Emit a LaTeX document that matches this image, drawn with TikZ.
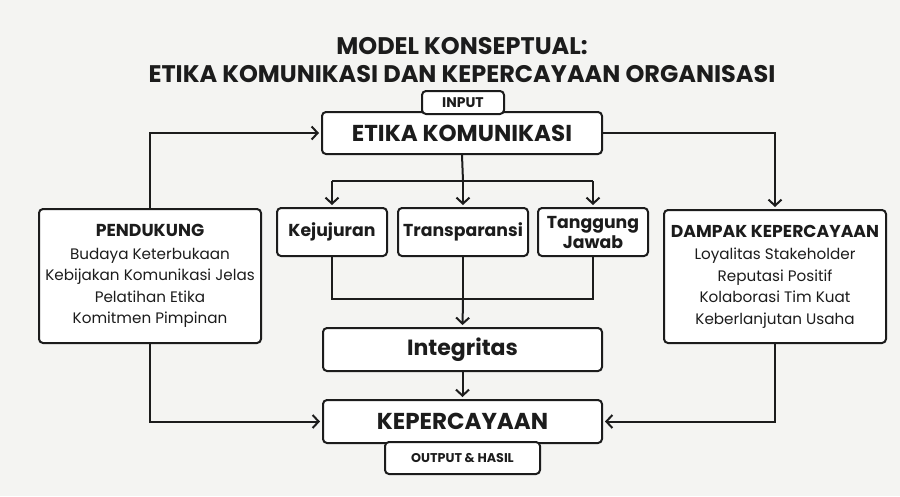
\documentclass[tikz,border=0pt]{standalone}
\usepackage{fontspec}
\setmainfont{Poppins}
\usepackage{tikz}
\usetikzlibrary{arrows.meta,calc}
\definecolor{bgcol}{HTML}{F4F4F2}
\definecolor{ink}{HTML}{1C1C1C}

\tikzset{
  box/.style={draw=ink, fill=white, line width=2pt, rounded corners=4pt, inner sep=0pt, text=ink, align=center},
  conn/.style={draw=ink, line width=2pt},
  arr/.style={conn, -{Straight Barb[length=6pt,width=13pt,line width=2pt]}, shorten >=2pt}
}

\begin{document}
\begin{tikzpicture}[x=1pt,y=-1pt]
        \fill[bgcol] (0,0) rectangle (900,496);
        \useasboundingbox (0,0) rectangle (900,496);
        % positions
        \coordinate (ttl) at (462,60);
        \coordinate (c1) at (462,133);
        \coordinate (c2) at (332,232);
        \coordinate (c3) at (463,232);
        \coordinate (c4) at (593,232);
        \coordinate (c5) at (462.5,349.5);
        \coordinate (c6) at (462.5,421.5);
        \coordinate (c7) at (150,276);
        \coordinate (c8) at (775,276.5);
        \coordinate (split) at (463,181);
        \coordinate (join) at (463,299);

          % title
          \node[text=ink, align=center, font=\fontsize{24}{28.5}\selectfont\bfseries] (title) at (ttl)
            {MODEL KONSEPTUAL:\\ETIKA KOMUNIKASI DAN KEPERCAYAAN ORGANISASI};

          % main boxes
          \node[box, minimum width=280, minimum height=42, font=\fontsize{23}{26}\selectfont\bfseries] (etika) at (c1) {ETIKA KOMUNIKASI};
          \node[box, minimum width=110, minimum height=48, font=\fontsize{17.3}{21}\selectfont\bfseries] (kej) at (c2) {Kejujuran};
          \node[box, minimum width=130, minimum height=48, font=\fontsize{17.3}{21}\selectfont\bfseries] (trans) at (c3) {Transparansi};
          \node[box, minimum width=110, minimum height=48, font=\fontsize{17.3}{21}\selectfont\bfseries] (tang) at (c4) {Tanggung\\[-1pt]Jawab};
          \node[box, minimum width=279, minimum height=43, font=\fontsize{22}{24}\selectfont\bfseries] (integ) at (c5) {Integritas};
          \node[box, minimum width=279, minimum height=43, font=\fontsize{23}{26}\selectfont\bfseries] (keper) at (c6) {KEPERCAYAAN};

          % side boxes
          \node[box, minimum width=222, minimum height=134, font=\fontsize{15.2}{21.5}\selectfont] (pend) at (c7)
            {{\fontsize{17.3}{21}\selectfont\bfseries PENDUKUNG}\\[1pt]Budaya Keterbukaan\\Kebijakan Komunikasi Jelas\\Pelatihan Etika\\Komitmen Pimpinan};
          \node[box, minimum width=222, minimum height=133, font=\fontsize{15.2}{21.5}\selectfont] (damp) at (c8)
            {{\fontsize{17.2}{21}\selectfont\bfseries DAMPAK KEPERCAYAAN}\\[1pt]Loyalitas Stakeholder\\Reputasi Positif\\Kolaborasi Tim Kuat\\Keberlanjutan Usaha};

          % connectors
          \draw[arr] (pend.north) |- (etika.west);
          \draw[arr] (etika.east) -| (damp.north);
          \draw[conn] (etika.south) -- (split);
          \draw[conn] (kej.north |- split) -- (tang.north |- split);
          \draw[arr] (kej.north |- split) -- (kej.north);
          \draw[arr] (split) -- (trans.north);
          \draw[arr] (tang.north |- split) -- (tang.north);
          \draw[conn] (kej.south) -- (kej.south |- join) -- (tang.south |- join) -- (tang.south);
          \draw[conn] (trans.south) -- (join);
          \draw[arr] (join) -- (integ.north);
          \draw[arr] (integ.south) -- (keper.north);
          \draw[arr] (pend.south) |- (keper.west);
          \draw[arr] (damp.south) |- (keper.east);

          % tags on top
          \node[box, minimum width=82, minimum height=23, font=\fontsize{14}{16}\selectfont\bfseries] (input) at (463,102.5) {INPUT};
          \node[box, minimum width=155, minimum height=32, font=\fontsize{12.7}{14}\selectfont\bfseries] (output) at (462.5,458) {OUTPUT \& HASIL};
     \end{tikzpicture}
\end{document}
